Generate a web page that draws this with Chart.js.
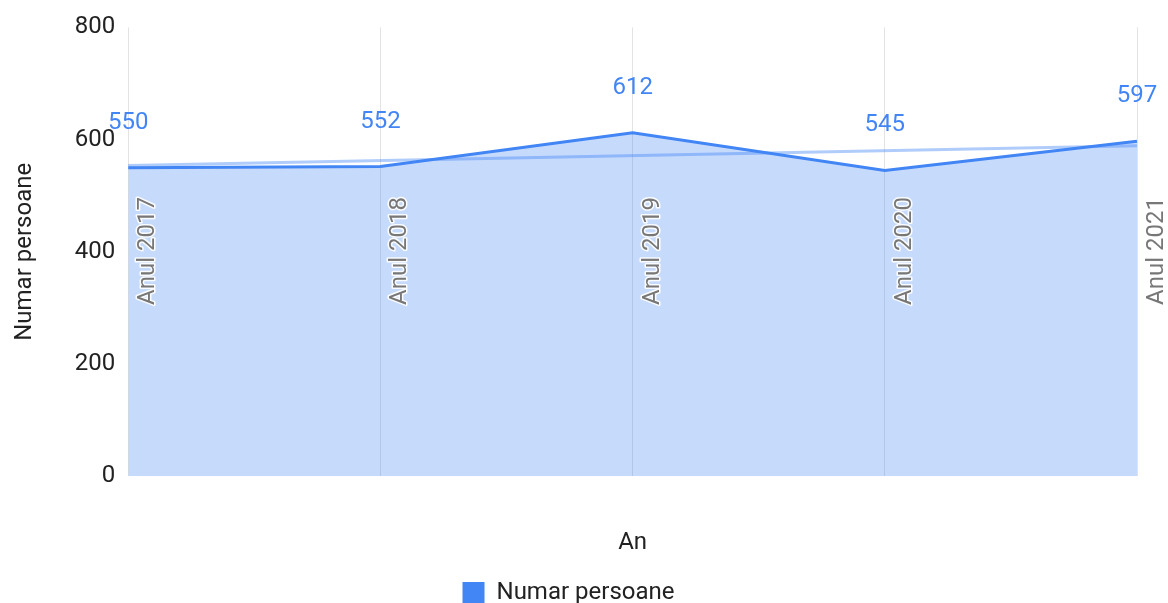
<!DOCTYPE html>
<html>
<head>
<meta charset="utf-8">
<script src="https://cdn.jsdelivr.net/npm/chart.js@4/dist/chart.umd.min.js"></script>
<style>
html,body{margin:0;padding:0;background:#fff;overflow:hidden;}
#wrap{width:1168px;height:615px;position:relative;}
</style>
</head>
<body>
<div id="wrap"><canvas id="c"></canvas></div>
<script>
const categories = ['Anul 2017', 'Anul 2018', 'Anul 2019', 'Anul 2020', 'Anul 2021'];
const values = [550, 552, 612, 545, 597];
const trendValues = [554, null, null, null, 589];
const yTicks = [0, 200, 400, 600, 800];
const seriesName = 'Numar persoane';
const xTitle = 'An';
const yTitle = 'Numar persoane';

const BLUE = '#4285F4';
const FONT = 'Roboto';

const labelsPlugin = {
  id: 'customLabels',
  afterDatasetsDraw(chart) {
    const ctx = chart.ctx;
    const xs = chart.scales.x;
    const ys = chart.scales.y;
    ctx.save();
    ctx.font = '24px ' + FONT;
    ctx.textAlign = 'center';
    ctx.textBaseline = 'middle';
    categories.forEach((c, i) => {
      const x = xs.getPixelForValue(i) + 20;
      const y = 251;
      ctx.save();
      ctx.translate(x, y);
      ctx.rotate(-Math.PI / 2);
      ctx.lineWidth = 3;
      ctx.strokeStyle = 'rgba(255,255,255,0.9)';
      ctx.lineJoin = 'round';
      ctx.strokeText(c, 0, 0);
      ctx.fillStyle = '#777777';
      ctx.fillText(c, 0, 0);
      ctx.restore();
    });
    ctx.font = '24px ' + FONT;
    ctx.fillStyle = BLUE;
    values.forEach((v, i) => {
      const x = xs.getPixelForValue(i);
      const y = ys.getPixelForValue(v) - 45;
      ctx.fillText(String(v), x, y);
    });
    ctx.restore();
  }
};

new Chart(document.getElementById('c'), {
  type: 'line',
  data: {
    labels: categories,
    datasets: [
      {
        label: seriesName,
        data: values,
        borderColor: BLUE,
        backgroundColor: 'rgba(66,133,244,0.3)',
        borderWidth: 3,
        fill: 'origin',
        pointRadius: 0,
        tension: 0,
        order: 1
      },
      {
        label: 'trend',
        data: trendValues,
        spanGaps: true,
        borderColor: 'rgba(66,133,244,0.42)',
        borderWidth: 3,
        fill: false,
        pointRadius: 0,
        tension: 0,
        order: 2
      }
    ]
  },
  options: {
    responsive: true,
    maintainAspectRatio: false,
    animation: false,
    layout: { padding: { top: 14, right: 31, left: 0, bottom: 0 } },
    scales: {
      x: {
        offset: false,
        grid: { display: true, color: '#e3e3e3', drawTicks: false },
        border: { display: false },
        ticks: { display: false },
        title: { display: true, text: xTitle, color: '#222', font: { family: FONT, size: 24 }, padding: { top: 52, bottom: 14 } }
      },
      y: {
        min: 0,
        max: 800,
        afterBuildTicks(scale) { scale.ticks = yTicks.map(v => ({ value: v })); },
        grid: { display: false, drawTicks: false },
        border: { display: false },
        ticks: { color: '#222', font: { family: FONT, size: 24 }, padding: 13 },
        title: { display: true, text: yTitle, color: '#222', font: { family: FONT, size: 24 }, padding: { top: 11, bottom: 22 } }
      }
    },
    plugins: {
      legend: {
        position: 'bottom',
        labels: {
          color: '#222',
          font: { family: FONT, size: 24 },
          boxWidth: 22,
          boxHeight: 22,
          padding: 10,
          generateLabels: (chart) => [{
            text: seriesName,
            fillStyle: BLUE,
            strokeStyle: BLUE,
            lineWidth: 0,
            datasetIndex: 0,
            fontColor: '#222'
          }]
        }
      },
      tooltip: { enabled: false }
    }
  },
  plugins: [labelsPlugin]
});
</script>
</body>
</html>
